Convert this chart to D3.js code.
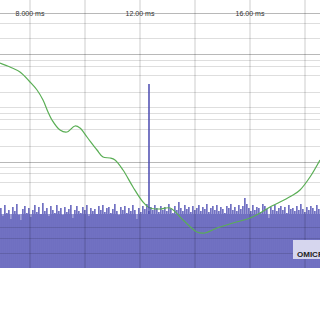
<!DOCTYPE html>
<html><head><meta charset="utf-8">
<script src="https://cdn.jsdelivr.net/npm/d3@7"></script>
<style>html,body{margin:0;padding:0;background:#fff;}svg{display:block;}</style>
</head><body>
<svg id="c" width="320" height="320"></svg>
<script>
// ---- data ----
const xTicks = [8, 10, 12, 14, 16, 18];            // ms, vertical grid
const xLabels = [{t: 8, s: "8.000 ms"}, {t: 12, s: "12.00 ms"}, {t: 16, s: "16.00 ms"}];
const hGridLight = [245, 230, 208, 202, 193, 176, 161, 155, 149, 139, 122, 101, 95, 86, 73, 41, 30, 15];
const hGridStrong = [255, 214, 106];
const curveTime = [6.909, 7.273, 7.636, 8.0, 8.255, 8.473, 8.655, 8.8, 9.091, 9.345, 9.636, 9.818, 10.073, 10.436, 10.655, 10.909, 11.091, 11.382, 11.745, 12.109, 12.364, 12.727, 13.091, 13.564, 14.073, 14.364, 14.8, 15.382, 16.0, 16.364, 16.727, 17.091, 17.564, 17.818, 18.182, 18.545];
const curveValue = [205, 201, 196, 186, 178, 168, 156, 148, 138, 136, 142, 140, 131, 118, 111, 110, 108, 98, 81, 66, 60, 59, 60, 48, 36, 35, 40, 45, 50, 55, 61, 66, 73, 78, 91, 108];
const noiseFloor = 54;
const noise = [60,52,63,55,58,49,61,57,64,53, 48,59,62,55,60,51,58,63,56,61,
  54,65,57,60,52,62,58,55,63,57, 60,53,61,56,59,63,50,58,62,57,
  55,61,58,63,52,60,57,59,54,62, 58,63,56,60,61,55,59,64,57,53,
  61,58,62,55,60,57,63,58,49,60, 56,62,59,64,57,61,58,63,60,56,
  62,58,61,57,64,59,55,62,58,66, 60,57,63,59,61,56,62,58,60,63,
  57,61,59,64,56,60,62,58,63,57, 61,59,55,62,60,64,58,61,57,63,
  59,62,70,64,60,57,63,58,61,60, 56,64,62,59,50,61,58,63,57,60,
  62,58,61,55,63,59,60,57,62,58, 64,59,56,61,58,62,60,57,63,59];
const markerTime = 12.327, markerValue = 184;
const boxLabel = "OMICRON";

// ---- scales ----
const svg = d3.select("#c");
const x = d3.scaleLinear().domain([6.909, 18.545]).range([0, 320]);
const y = d3.scaleLinear().domain([0, 268]).range([268, 0]);
const tStep = (18.545 - 6.909) / noise.length;

// noise floor
svg.append("rect").attr("x", x(6.909)).attr("width", x(18.545) - x(6.909))
  .attr("y", y(noiseFloor)).attr("height", y(0) - y(noiseFloor)).attr("fill", "#6d6dc0");
// noise spikes
svg.append("g").selectAll("rect").data(noise).join("rect")
  .attr("x", (d, i) => x(6.909 + i * tStep))
  .attr("width", 1.7)
  .attr("y", d => y(d))
  .attr("height", d => y(0) - y(d))
  .attr("fill", "#7171c2");
// dips where value below floor
svg.append("g").selectAll("rect").data(noise.map((d, i) => ({d, i})).filter(o => o.d < noiseFloor)).join("rect")
  .attr("x", o => x(6.909 + o.i * tStep) + 0.4)
  .attr("width", 1)
  .attr("y", y(noiseFloor))
  .attr("height", o => y(o.d) - y(noiseFloor))
  .attr("fill", "#c4c4e4");

// grid
const g = svg.append("g");
g.selectAll(".v").data(xTicks).join("line")
  .attr("x1", d => x(d)).attr("x2", d => x(d)).attr("y1", 0).attr("y2", y(0))
  .attr("stroke", "rgba(0,0,0,0.2)").attr("stroke-width", 1);
g.selectAll(".hl").data(hGridLight).join("line").attr("class", "hl")
  .attr("x1", 0).attr("x2", 320).attr("y1", d => Math.round(y(d)) + 0.5).attr("y2", d => Math.round(y(d)) + 0.5)
  .attr("stroke", "rgba(0,0,0,0.13)").attr("stroke-width", 1);
g.selectAll(".hs").data(hGridStrong).join("line").attr("class", "hs")
  .attr("x1", 0).attr("x2", 320).attr("y1", d => Math.round(y(d)) + 0.5).attr("y2", d => Math.round(y(d)) + 0.5)
  .attr("stroke", "rgba(0,0,0,0.28)").attr("stroke-width", 1);

// labels
svg.append("g").selectAll("text").data(xLabels).join("text")
  .attr("x", d => x(d.t)).attr("y", y(255) + 2.5)
  .attr("text-anchor", "middle")
  .attr("font-family", "Liberation Sans, Arial, sans-serif")
  .attr("font-size", 7).attr("fill", "#333").text(d => d.s);

// green envelope
const pts = curveTime.map((t, i) => [t, curveValue[i]]);
svg.append("path").datum(pts)
  .attr("d", d3.line().x(d => x(d[0])).y(d => y(d[1])).curve(d3.curveCatmullRom))
  .attr("fill", "none").attr("stroke", "#5aae55").attr("stroke-width", 1.2);

// marker spike
svg.append("line").attr("x1", x(markerTime)).attr("x2", x(markerTime))
  .attr("y1", y(markerValue)).attr("y2", y(noiseFloor))
  .attr("stroke", "#4a4ab0").attr("stroke-width", 1.5);

// label box
svg.append("rect").attr("x", 293).attr("y", 240).attr("width", 30).attr("height", 19)
  .attr("fill", "#d6d6ee");
svg.append("text").attr("x", 297).attr("y", 256.5)
  .attr("font-family", "Liberation Sans, Arial, sans-serif").attr("font-weight", "bold")
  .attr("font-size", 8).attr("fill", "#222").text(boxLabel);
</script>
</body></html>
